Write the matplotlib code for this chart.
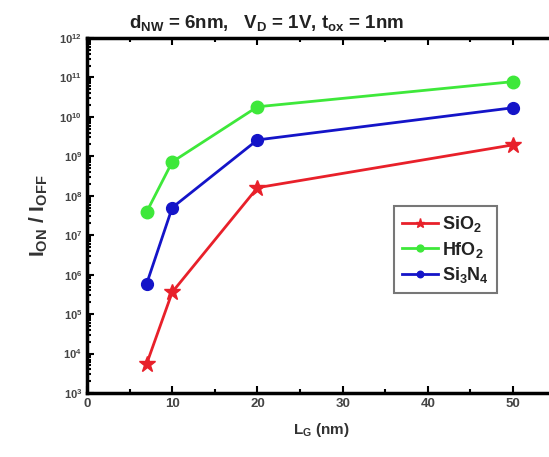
import matplotlib
matplotlib.use("Agg")
import matplotlib.pyplot as plt
from matplotlib.ticker import LogLocator, MultipleLocator, NullFormatter

plt.rcParams['font.family'] = ['Liberation Sans', 'DejaVu Sans']
plt.rcParams['font.weight'] = 'bold'
plt.rcParams['mathtext.fontset'] = 'custom'
plt.rcParams['mathtext.rm'] = 'Liberation Sans:bold'
plt.rcParams['mathtext.bf'] = 'Liberation Sans:bold'
plt.rcParams['mathtext.it'] = 'Liberation Sans:bold'
plt.rcParams['mathtext.default'] = 'rm'

# gate length (nm) and Ion/Ioff ratio per gate oxide
lg = [7, 10, 20, 50]
sio2 = [5.5e3, 3.6e5, 1.6e8, 1.95e9]
hfo2 = [3.9e7, 7.2e8, 1.8e10, 7.8e10]
si3n4 = [5.9e5, 5.0e7, 2.6e9, 1.7e10]

fig = plt.figure(figsize=(5.49, 4.57), dpi=100)
ax = fig.add_axes([0.1585, 0.140, 0.8536, 0.777])

ax.plot(lg, sio2, color='#e8202a', lw=2.0, marker='*', ms=12, label=r'SiO$_2$')
ax.plot(lg, hfo2, color='#3ee83a', lw=2.0, marker='o', ms=9, label=r'HfO$_2$')
ax.plot(lg, si3n4, color='#1414c8', lw=2.0, marker='o', ms=8.5, label=r'Si$_3$N$_4$')

ax.set_yscale('log')
ax.set_xlim(0, 55)
ax.set_ylim(1e3, 1e12)

ax.xaxis.set_major_locator(MultipleLocator(10))
ax.xaxis.set_minor_locator(MultipleLocator(5))
ax.yaxis.set_major_locator(LogLocator(base=10, numticks=20))
ax.yaxis.set_minor_locator(LogLocator(base=10, subs=range(2, 10), numticks=20))
ax.yaxis.set_minor_formatter(NullFormatter())

for s in ax.spines.values():
    s.set_linewidth(2.5)
ax.tick_params(which='both', direction='in', top=True, right=True, width=1.5,
               labelcolor='#444444')
ax.tick_params(which='major', length=5)
ax.tick_params(which='minor', length=3)
ax.tick_params(axis='x', labelsize=9.5)
ax.tick_params(axis='y', labelsize=8)

ax.set_xlabel(r'L$_\mathrm{G}$ (nm)', fontsize=11, fontweight='bold',
              color='#333333', labelpad=8)
ax.set_ylabel(r'I$_\mathrm{ON}$ / I$_\mathrm{OFF}$', fontsize=15, fontweight='bold',
              color='#333333', labelpad=7)
ax.set_title(r'd$_\mathrm{NW}$ = 6nm,   V$_\mathrm{D}$ = 1V, t$_\mathrm{ox}$ = 1nm',
             fontsize=13.5, fontweight='bold', color='#222222', pad=7)
ax.title.set_position((0.384, 1.0))

leg = ax.legend(loc='upper left', bbox_to_anchor=(0.636, 0.552), fontsize=13,
                frameon=True, fancybox=False, handlelength=2.0, handletextpad=0.2,
                borderpad=0.45, labelspacing=0.3, markerscale=0.55)
leg.get_frame().set_edgecolor('#555555')
leg.get_frame().set_linewidth(1.5)
for t in leg.get_texts():
    t.set_color('#222222')

fig.savefig('out.png', dpi=100)
